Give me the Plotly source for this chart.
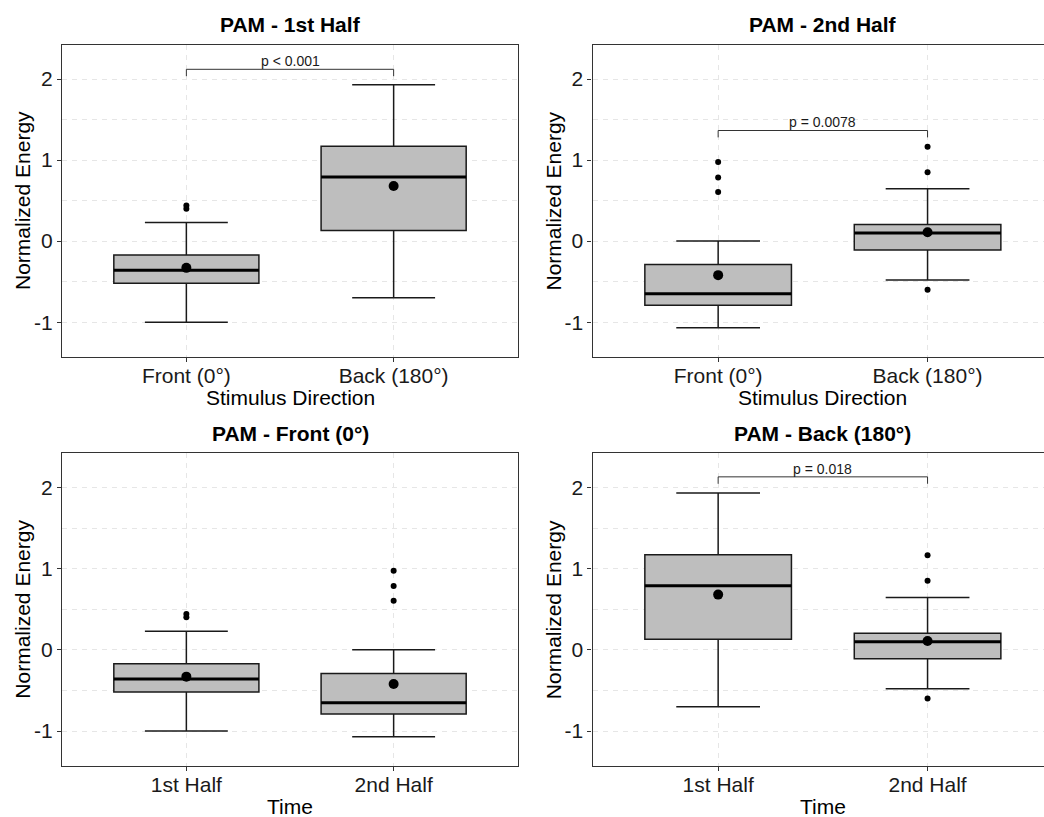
import plotly.graph_objects as go

# ---------------- data ----------------
dir_labels = ["Front (0°)", "Back (180°)"]
time_labels = ["1st Half", "2nd Half"]
y_tick_vals = [-1, 0, 1, 2]
y_tick_text = ["-1", "0", "1", "2"]

# box statistics per group: lower whisker, Q1, median, Q3, upper whisker, mean
front_1st = dict(lower=-1.00, q1=-0.52, median=-0.36, q3=-0.17, upper=0.23, mean=-0.33, outliers=[0.44, 0.40])
back_1st = dict(lower=-0.70, q1=0.13, median=0.79, q3=1.17, upper=1.93, mean=0.68, outliers=[])
front_2nd = dict(lower=-1.07, q1=-0.79, median=-0.65, q3=-0.29, upper=0.00, mean=-0.42, outliers=[0.975, 0.785, 0.605])
back_2nd = dict(lower=-0.48, q1=-0.11, median=0.10, q3=0.205, upper=0.645, mean=0.11, outliers=[1.165, 0.85, -0.60])

panel_titles = ["PAM - 1st Half", "PAM - 2nd Half", "PAM - Front (0°)", "PAM - Back (180°)"]
panel_groups = [[front_1st, back_1st], [front_2nd, back_2nd], [front_1st, front_2nd], [back_1st, back_2nd]]
panel_ticks = [dir_labels, dir_labels, time_labels, time_labels]
panel_xtitles = ["Stimulus Direction", "Stimulus Direction", "Time", "Time"]
p_labels = ["p < 0.001", "p = 0.0078", None, "p = 0.018"]
bracket_y = [2.12, 1.365, None, 2.13]

# ---------------- layout geometry ----------------
W, H = 1044, 817
FONT = "Liberation Sans, Arial, sans-serif"
BOX_W = 0.7
CAP_W = 0.4
Y_RANGE = [-1.43, 2.42]

panels_px = [
    dict(x0=62, x1=518, y0=45, y1=357, xr=[0.4, 2.6], right=True),
    dict(x0=592.5, x1=1044, y0=45, y1=357, xr=[0.4, 2.556], right=False),
    dict(x0=62, x1=518, y0=453.3, y1=766, xr=[0.4, 2.6], right=True),
    dict(x0=592.5, x1=1044, y0=453.3, y1=766, xr=[0.4, 2.556], right=False),
]

fig = go.Figure()
annotations = []
layout_axes = {}

for i, (pp, groups) in enumerate(zip(panels_px, panel_groups)):
    k = "" if i == 0 else str(i + 1)
    xa, ya = "x" + k, "y" + k
    pos = [1, 2]
    for xpos, g in zip(pos, groups):
        fig.add_trace(go.Box(
            x=[xpos], q1=[g["q1"]], median=[g["median"]], q3=[g["q3"]],
            lowerfence=[g["lower"]], upperfence=[g["upper"]],
            width=BOX_W, whiskerwidth=CAP_W / BOX_W,
            fillcolor="#BEBEBE", line=dict(color="#1a1a1a", width=1.5),
            boxpoints=False, showlegend=False, hoverinfo="skip",
            xaxis=xa, yaxis=ya,
        ))
        # thick median line
        fig.add_trace(go.Scatter(
            x=[xpos - BOX_W / 2, xpos + BOX_W / 2], y=[g["median"], g["median"]],
            mode="lines", line=dict(color="black", width=3),
            showlegend=False, hoverinfo="skip", xaxis=xa, yaxis=ya,
        ))
        if g["outliers"]:
            fig.add_trace(go.Scatter(
                x=[xpos] * len(g["outliers"]), y=g["outliers"], mode="markers",
                marker=dict(color="black", size=6),
                showlegend=False, hoverinfo="skip", xaxis=xa, yaxis=ya,
            ))
        fig.add_trace(go.Scatter(
            x=[xpos], y=[g["mean"]], mode="markers",
            marker=dict(color="black", size=10),
            showlegend=False, hoverinfo="skip", xaxis=xa, yaxis=ya,
        ))
    # significance bracket
    if p_labels[i] is not None:
        b = bracket_y[i]
        fig.add_trace(go.Scatter(
            x=[1, 1, 2, 2], y=[b - 0.085, b, b, b - 0.085], mode="lines",
            line=dict(color="#333333", width=1),
            showlegend=False, hoverinfo="skip", xaxis=xa, yaxis=ya,
        ))
        annotations.append(dict(
            x=1.5, y=b, xref=xa, yref=ya, text=p_labels[i], showarrow=False,
            yanchor="bottom", yshift=-2, font=dict(family=FONT, size=14, color="#1a1a1a"),
        ))

    x0, x1 = pp["x0"], pp["x1"]
    y0, y1 = pp["y0"], pp["y1"]
    xdom = [x0 / W, min(x1 / W, 1.0)]
    ydom = [1 - y1 / H, 1 - y0 / H]
    grid = dict(showgrid=True, gridcolor="#E6E6E6", gridwidth=1, griddash="5px,5px")
    layout_axes["xaxis" + k] = dict(
        domain=xdom, range=pp["xr"], anchor=ya, tickmode="array", tickvals=pos,
        ticktext=panel_ticks[i], ticks="outside", ticklen=4, tickcolor="#333333",
        ticklabelstandoff=-4,
        showline=True, mirror=True, linecolor="#333333", linewidth=1.2,
        zeroline=False, tickfont=dict(family=FONT, size=21, color="#1a1a1a"), **grid,
    )
    layout_axes["yaxis" + k] = dict(
        domain=ydom, range=Y_RANGE, anchor=xa, tickmode="array",
        tickvals=y_tick_vals, ticktext=y_tick_text,
        ticks="outside", ticklen=4, tickcolor="#333333",
        showline=True, mirror=pp["right"], linecolor="#333333", linewidth=1.2,
        zeroline=False, tickfont=dict(family=FONT, size=21, color="#1a1a1a"),
        minor=dict(tickmode="linear", dtick=0.5, tick0=0, showgrid=True,
                   gridcolor="#E6E6E6", griddash="5px,5px", ticks=""),
        **grid,
    )
    # full (uncropped) panel width for centring texts
    full_x1 = x0 + (x1 - x0) * (2.2 / (pp["xr"][1] - pp["xr"][0]))
    cx = (x0 + full_x1) / 2 / W
    annotations.append(dict(
        x=cx, y=1 - (y0 - 20) / H, xref="paper", yref="paper", text="<b>%s</b>" % panel_titles[i],
        showarrow=False, xanchor="center", yanchor="middle", font=dict(family=FONT, size=21, color="black"),
    ))
    annotations.append(dict(
        x=cx, y=1 - (y1 + 40) / H, xref="paper", yref="paper", text=panel_xtitles[i],
        showarrow=False, xanchor="center", yanchor="middle", font=dict(family=FONT, size=21, color="black"),
    ))
    annotations.append(dict(
        x=(x0 - 39) / W, y=1 - (y0 + y1) / 2 / H, xref="paper", yref="paper",
        text="Normalized Energy", textangle=-90,
        showarrow=False, xanchor="center", yanchor="middle", font=dict(family=FONT, size=21, color="black"),
    ))

fig.update_layout(
    width=W, height=H, margin=dict(l=0, r=0, t=0, b=0),
    plot_bgcolor="white", paper_bgcolor="white", hovermode=False,
    annotations=annotations, showlegend=False, **layout_axes,
)

fig.write_html(
    "out.html",
    config={"displayModeBar": False},
    post_script="document.body.style.margin='0';document.body.style.overflow='hidden';",
)
